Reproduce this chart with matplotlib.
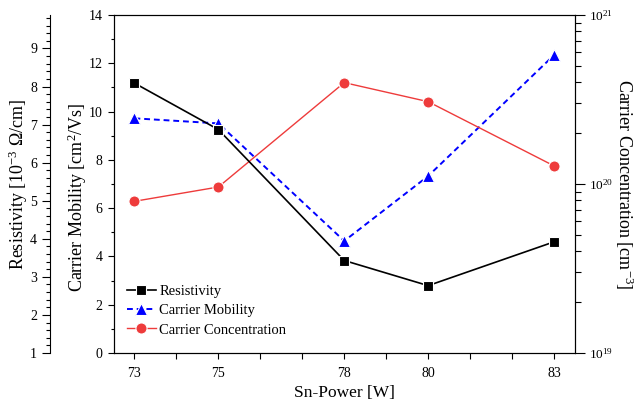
import numpy as np
import matplotlib
matplotlib.use("Agg")
import matplotlib.pyplot as plt
from matplotlib.ticker import MultipleLocator, FixedLocator, LogLocator, NullFormatter, FixedFormatter

plt.rcParams['font.family'] = ['Liberation Serif', 'DejaVu Serif']
plt.rcParams['mathtext.fontset'] = 'custom'
plt.rcParams['mathtext.rm'] = 'Liberation Serif'
plt.rcParams['mathtext.it'] = 'Liberation Serif:italic'

# data
power = [73, 75, 78, 80, 83]
resistivity = [8.09, 6.87, 3.43, 2.77, 3.92]        # 10^-3 Ohm/cm
mobility = [9.72, 9.51, 4.64, 7.33, 12.34]          # cm^2/Vs
concentration = [7.9e19, 9.6e19, 3.98e20, 3.07e20, 1.28e20]  # cm^-3

fig = plt.figure(figsize=(6.37, 4.07), dpi=100)
ax = fig.add_axes([113.5/637, 1-353/407, (575-113.5)/637, (353-15)/407])
ax_c = ax.twinx()
ax_r = ax.twinx()

# carrier mobility (main axis)
l_mob, = ax.plot(power, mobility, color='#0000ff', ls=(0, (3, 2)), lw=1.4,
                 marker='^', ms=8.5, mec='white', mew=0.8, label='Carrier Mobility')
ax.set_xlim(72.5, 83.5)
ax.set_ylim(0, 14)
ax.yaxis.set_major_locator(MultipleLocator(2))
ax.yaxis.set_minor_locator(MultipleLocator(1))
ax.xaxis.set_major_locator(FixedLocator(np.arange(73, 84)))
ax.set_xticklabels([str(v) if v in power else '' for v in range(73, 84)])
ax.tick_params(axis='x', direction='out', length=4, width=0.8, labelsize=10, pad=6)
ax.tick_params(axis='y', which='major', direction='out', length=4.5, width=0.8, labelsize=10)
ax.tick_params(axis='y', which='minor', direction='out', length=2.5, width=0.8)
ax.set_xlabel('Sn-Power [W]', fontsize=12.5, labelpad=4)
ax.set_ylabel('Carrier Mobility [cm$^{2}$/Vs]', fontsize=13)
ax.yaxis.set_label_coords(-0.054, 0.46)

# carrier concentration (right log axis)
l_con, = ax_c.plot(power, concentration, color='#ee3b3b', lw=1.0,
                   marker='o', ms=8, mec='white', mew=0.8, label='Carrier Concentration')
ax_c.set_yscale('log')
ax_c.set_ylim(1e19, 1e21)
ax_c.yaxis.set_major_locator(FixedLocator([1e19, 1e20, 1e21]))
ax_c.yaxis.set_major_formatter(FixedFormatter(['10$^{19}$', '10$^{20}$', '10$^{21}$']))
ax_c.yaxis.set_minor_locator(LogLocator(base=10, subs=np.arange(2, 10)))
ax_c.yaxis.set_minor_formatter(NullFormatter())
ax_c.tick_params(axis='y', which='major', direction='out', length=7, width=0.8, labelsize=9.5, pad=3)
ax_c.tick_params(axis='y', which='minor', direction='out', length=4.5, width=0.8)
ax_c.set_ylabel('Carrier Concentration [cm$^{-3}$]', fontsize=13, rotation=270)
ax_c.yaxis.set_label_coords(1.13, 0.5)

# resistivity (outer left axis)
l_res, = ax_r.plot(power, resistivity, color='black', lw=1.2,
                   marker='s', ms=7.5, mec='white', mew=0.8, label='Resistivity')
ax_r.set_ylim(1, 9.88)
ax_r.yaxis.set_ticks_position('left')
ax_r.yaxis.set_label_position('left')
ax_r.spines['left'].set_position(('axes', -0.137))
for s in ['right', 'top', 'bottom']:
    ax_r.spines[s].set_visible(False)
ax_r.yaxis.set_major_locator(MultipleLocator(1))
ax_r.yaxis.set_minor_locator(MultipleLocator(0.2))
ax_r.tick_params(axis='y', which='major', direction='out', length=6, width=0.8, labelsize=10)
ax_r.tick_params(axis='y', which='minor', direction='out', length=3, width=0.8)
ax_r.set_ylabel('Resistivity [10$^{-3}$ \u03a9/cm]', fontsize=13)
ax_r.yaxis.set_label_coords(-0.181, 0.5)

leg = ax_r.legend(handles=[l_res, l_mob, l_con], loc='upper left',
                  bbox_to_anchor=(0.0, 0.241), frameon=False, fontsize=10.5,
                  handlelength=2.0, handletextpad=0.25, labelspacing=0.42)

fig.savefig('out.png', dpi=100)
